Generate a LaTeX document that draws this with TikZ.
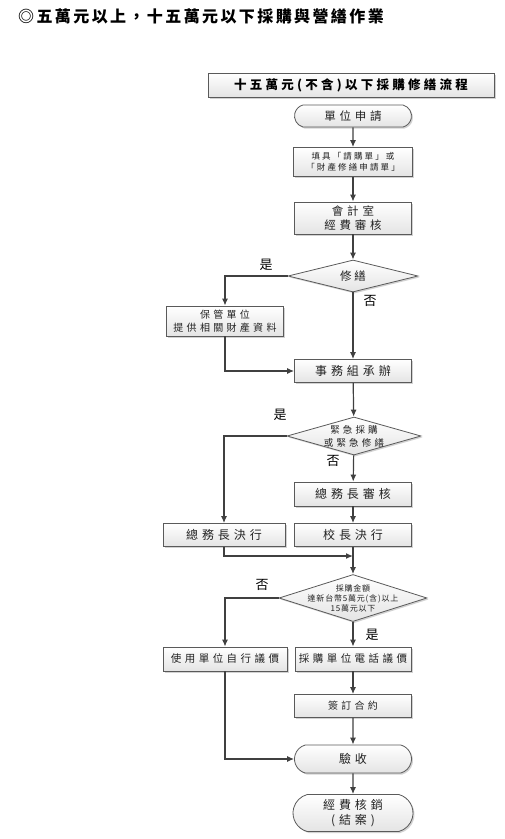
\documentclass[tikz,border=0pt]{standalone}
\usepackage{fontspec}
\setmainfont{Noto Sans CJK TC}
\newfontfamily\cjkwide[LetterSpace=33]{Noto Sans CJK TC}
\newfontfamily\cjkmid[LetterSpace=25]{Noto Sans CJK TC}
\newfontfamily\cjknarrow[LetterSpace=10]{Noto Sans CJK TC}
\newfontfamily\cjkhead[LetterSpace=26]{Noto Sans CJK TC}
\newfontfamily\cjktitle[LetterSpace=15]{Noto Sans CJK TC}
\usepackage{tikz}
\usetikzlibrary{arrows.meta,shapes.geometric,shapes.misc,shadows}

\definecolor{linec}{HTML}{404040}
\definecolor{boxline}{HTML}{5A5A5A}
\definecolor{boxfill}{HTML}{E4E4E4}
\definecolor{textc}{HTML}{222222}

\begin{document}
\begin{tikzpicture}[x=1pt,y=-1pt]
	\tikzset{>={Latex[length=7pt,width=6pt]}}
	\tikzset{
		box/.style={draw=boxline,line width=0.8pt,top color=white,bottom color=boxfill,
			drop shadow={shadow xshift=1.5pt,shadow yshift=-1.5pt,fill=black!35},
			text=textc,align=center,inner sep=0pt,minimum width=117pt},
		stadium/.style={box,rounded rectangle,rounded rectangle arc length=150},
		decision/.style={box,diamond,aspect=4},
		dtext/.style={text=textc,align=center,inner sep=0pt},
		yesno/.style={text=black,inner sep=0pt,font=\fontsize{13}{13}\selectfont},
		flow/.style={draw=linec,line width=1.2pt,->}
	}
	\useasboundingbox (0,0) rectangle (505,839);
	
	% title and header
	\node[anchor=west,inner sep=0pt,font=\cjktitle\fontsize{16}{16}\bfseries\selectfont] (title) at (18,16) {◎五萬元以上，十五萬元以下採購與營繕作業};
	\node[box,minimum width=286pt,minimum height=24pt,font=\cjkhead\fontsize{12.5}{14}\bfseries\selectfont,text=black] (head) at (351,85) {十五萬元(不含)以下採購修繕流程};
	
	% main column
	\node[stadium,minimum height=22pt,font=\cjkwide\fontsize{11.5}{14}\selectfont] (start) at (353,116) {單位申請};
	\node[box,minimum width=119pt,minimum height=29pt,font=\cjkmid\fontsize{8.5}{10.5}\selectfont] (form) at (353,162) {填具「請購單」或\\「財產修繕申請單」};
	\node[box,minimum height=32pt,font=\cjkwide\fontsize{11.5}{14}\selectfont] (acct) at (353,218) {會計室\\經費審核};
	\node[decision,minimum width=130pt,minimum height=32pt] (repair) at (353,276) {};
	\node[dtext,font=\cjkmid\fontsize{11.5}{14}\selectfont] (repairt) at (repair) {修繕};
	\node[box,minimum height=30pt,font=\cjkwide\fontsize{10}{13}\selectfont] (keeper) at (225,321) {保管單位\\提供相關財產資料};
	\node[box,minimum height=23pt,font=\cjkwide\fontsize{12}{14}\selectfont] (affair) at (353,371) {事務組承辦};
	\node[decision,minimum width=134pt,minimum height=38pt] (urgent) at (354,436) {};
	\node[dtext,font=\cjkwide\fontsize{9.5}{13}\selectfont] (urgentt) at (urgent) {緊急採購\\或緊急修繕};
	\node[box,minimum height=24pt,font=\cjkwide\fontsize{12}{14}\selectfont] (gmcheck) at (353,494) {總務長審核};
	\node[box,minimum height=23pt,font=\cjkwide\fontsize{12}{14}\selectfont] (principal) at (353,535) {校長決行};
	\node[box,minimum width=122pt,minimum height=23pt,font=\cjkwide\fontsize{12}{14}\selectfont] (gmdecide) at (224,535) {總務長決行};
	\node[decision,minimum width=148pt,minimum height=47pt] (amount) at (353,598) {};
	\node[dtext,font=\cjknarrow\fontsize{8}{10}\selectfont] (amountt) at (amount) {採購金額\\達新台幣5萬元(含)以上\\15萬元以下};
	\node[box,minimum width=124pt,minimum height=24pt,font=\cjkwide\fontsize{10.5}{14}\selectfont] (selfprice) at (225,659) {使用單位自行議價};
	\node[box,minimum width=116pt,minimum height=24pt,font=\cjkwide\fontsize{10.5}{14}\selectfont] (phoneprice) at (353,659) {採購單位電話議價};
	\node[box,minimum height=23pt,font=\cjkwide\fontsize{10}{14}\selectfont] (contract) at (353,706) {簽訂合約};
	\node[stadium,minimum height=28pt,font=\cjkwide\fontsize{12}{14}\selectfont] (accept) at (353,759) {驗收};
	\node[stadium,minimum width=120pt,minimum height=37pt,font=\cjkwide\fontsize{12}{15}\selectfont] (close) at (353,813) {經費核銷\\(結案)};
	
	\coordinate (join) at (353,556);
	
	% yes / no labels
	\node[yesno] (yes1) at (266,265) {是};
	\node[yesno] (no1) at (370,301) {否};
	\node[yesno] (yes2) at (280,415) {是};
	\node[yesno] (no2) at (333,461) {否};
	\node[yesno] (no3) at (262,585) {否};
	\node[yesno] (yes3) at (372,635) {是};
	
	% connectors
	\draw[flow] (start) -- (form);
	\draw[flow] (form) -- (acct);
	\draw[flow] (acct) -- (repair);
	\draw[flow] (repair.west) -| (keeper.north);
	\draw[flow] (repair) -- (affair);
	\draw[flow] (keeper.south) |- (affair.west);
	\draw[flow] (affair) -- (urgent);
	\draw[flow] (urgent.west) -| (gmdecide.north);
	\draw[flow] (urgent) -- (gmcheck);
	\draw[flow] (gmcheck) -- (principal);
	\draw[flow] (principal) -- (amount);
	\draw[flow] (gmdecide.south) |- (join);
	\draw[flow] (amount.west) -| (selfprice.north);
	\draw[flow] (amount) -- (phoneprice);
	\draw[flow] (phoneprice) -- (contract);
	\draw[flow] (contract) -- (accept);
	\draw[flow] (accept) -- (close);
	\draw[flow] (selfprice.south) |- (accept.west);
	
\end{tikzpicture}
\end{document}
